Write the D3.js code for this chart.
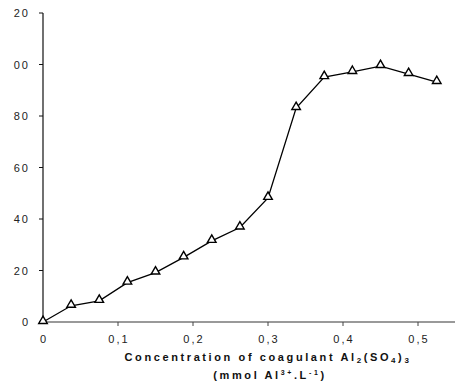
<!DOCTYPE html>
<html>
<head>
<meta charset="utf-8">
<script src="https://cdn.jsdelivr.net/npm/d3@7"></script>
<style>
	body { margin: 0; background: #fff; }
	svg { display: block; font-family: "Liberation Sans", Arial, sans-serif; }
	.tick-label { font-size: 11px; letter-spacing: 2px; fill: #222; }
	.axis-title { font-size: 11px; font-weight: bold; letter-spacing: 2.6px; fill: #111; }
</style>
</head>
<body>
<div id="chart"></div>
<script>
// Data
var concentration = [0, 0.0375, 0.075, 0.1125, 0.15, 0.1875, 0.225, 0.2625, 0.3, 0.3375, 0.375, 0.4125, 0.45, 0.4875, 0.525];
var removal = [0, 6.3, 8.2, 15.3, 19.2, 25.1, 31.5, 36.7, 48.2, 83.1, 95.1, 97.1, 99.4, 96.3, 93.2];
var yTicks = [0, 20, 40, 60, 80, 100, 120];
var yTickLabels = ["0", "20", "40", "60", "80", "00", "20"]; // clipped as in the original
var xTicks = [0, 0.1, 0.2, 0.3, 0.4, 0.5];
var xTickLabels = ["0", "0,1", "0,2", "0,3", "0,4", "0,5"];

var width = 456, height = 387;

var svg = d3.select("#chart").append("svg")
	.attr("width", width)
	.attr("height", height);

// Scales
var xScale = d3.scaleLinear().domain([0, 0.5]).range([43, 418]),
	yScale = d3.scaleLinear().domain([0, 120]).range([322, 13]);

// Y axis
var yAxis = svg.append("g");
yAxis.append("line")
	.attr("x1", xScale(0)).attr("x2", xScale(0))
	.attr("y1", yScale(120)).attr("y2", yScale(0))
	.attr("stroke", "#111").attr("stroke-width", 1.2);
yAxis.selectAll(".ytick")
	.data(yTicks)
	.enter()
	.append("line")
	.attr("x1", xScale(0) - 4).attr("x2", xScale(0))
	.attr("y1", function(d) { return yScale(d); })
	.attr("y2", function(d) { return yScale(d); })
	.attr("stroke", "#111");
yAxis.selectAll(".tick-label")
	.data(yTicks)
	.enter()
	.append("text")
	.attr("class", "tick-label")
	.attr("x", 30)
	.attr("y", function(d) { return yScale(d) + 4; })
	.attr("text-anchor", "end")
	.text(function(d, i) { return yTickLabels[i]; });

// X axis
var xAxis = svg.append("g");
xAxis.append("line")
	.attr("x1", xScale(0)).attr("x2", 455)
	.attr("y1", yScale(0)).attr("y2", yScale(0))
	.attr("stroke", "#777").attr("stroke-width", 1.5);
xAxis.selectAll(".xtick")
	.data(xTicks.slice(1))
	.enter()
	.append("line")
	.attr("x1", function(d) { return xScale(d); })
	.attr("x2", function(d) { return xScale(d); })
	.attr("y1", yScale(0)).attr("y2", yScale(0) + 4)
	.attr("stroke", "#444");
xAxis.selectAll(".tick-label")
	.data(xTicks)
	.enter()
	.append("text")
	.attr("class", "tick-label")
	.attr("x", function(d) { return xScale(d) + 1; })
	.attr("y", 343)
	.attr("text-anchor", "middle")
	.text(function(d, i) { return xTickLabels[i]; });

// Axis title, two lines
var title1 = svg.append("text")
	.attr("class", "axis-title")
	.attr("x", 268)
	.attr("y", 361)
	.attr("text-anchor", "middle");
title1.append("tspan").text("Concentration of coagulant Al");
title1.append("tspan").attr("font-size", "8px").attr("dy", 2).text("2");
title1.append("tspan").attr("dy", -2).text("(SO");
title1.append("tspan").attr("font-size", "8px").attr("dy", 2).text("4");
title1.append("tspan").attr("dy", -2).text(")");
title1.append("tspan").attr("font-size", "8px").attr("dy", 2).text("3");

var title2 = svg.append("text")
	.attr("class", "axis-title")
	.attr("x", 270)
	.attr("y", 379)
	.attr("text-anchor", "middle");
title2.append("tspan").text("(mmol Al");
title2.append("tspan").attr("font-size", "7px").attr("dy", -4).text("3+");
title2.append("tspan").attr("dy", 4).text(".L");
title2.append("tspan").attr("font-size", "7px").attr("dy", -4).text("-1");
title2.append("tspan").attr("dy", 4).text(")");

// Line
var points = concentration.map(function(c, i) { return { x: c, y: removal[i] }; });
var line = d3.line()
	.x(function(d) { return xScale(d.x); })
	.y(function(d) { return yScale(d.y); });

svg.append("path")
	.datum(points)
	.attr("d", line)
	.attr("fill", "none")
	.attr("stroke", "#000")
	.attr("stroke-width", 1.3);

// Triangle markers
var tri = d3.symbol().type(d3.symbolTriangle).size(32);
svg.selectAll(".marker")
	.data(points)
	.enter()
	.append("path")
	.attr("class", "marker")
	.attr("d", tri)
	.attr("transform", function(d) { return "translate(" + xScale(d.x) + "," + (yScale(d.y) - 1) + ")"; })
	.attr("fill", "#fff")
	.attr("stroke", "#000")
	.attr("stroke-width", 1.4);
</script>
</body>
</html>
